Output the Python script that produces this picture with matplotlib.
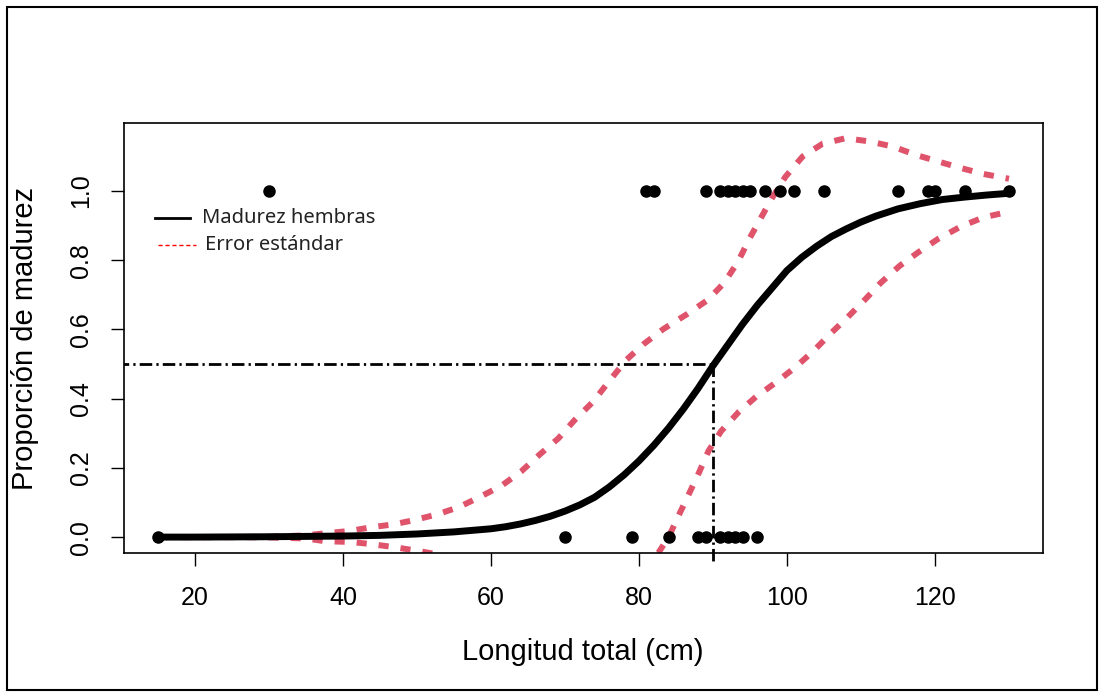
import matplotlib
matplotlib.use('Agg')
import matplotlib.pyplot as plt
from matplotlib.lines import Line2D
from matplotlib.patches import Rectangle

# observed maturity (0 = immature, 1 = mature)
mature_len = [30, 81, 82, 89, 91, 92, 93, 94, 95, 97, 99, 101, 105, 115, 119, 120, 124, 130]
immature_len = [15, 70, 79, 84, 88, 89, 91, 92, 93, 94, 96]

# fitted ogive
fit_x = [15, 20, 30, 40, 45, 50, 55, 60, 62, 64, 66, 68, 70, 72, 74, 76, 78,
         80, 82, 84, 86, 88, 90, 92, 94, 96, 98, 100, 102, 104, 106, 108, 110,
         112, 115, 118, 121, 124, 127, 130]
fit_y = [0.0, 0.0, 0.001, 0.003, 0.005, 0.009, 0.015, 0.024, 0.03, 0.038, 0.048,
         0.06, 0.075, 0.093, 0.115, 0.145, 0.18, 0.22, 0.265, 0.315, 0.37, 0.43,
         0.495, 0.555, 0.615, 0.67, 0.72, 0.77, 0.808, 0.84, 0.868, 0.89, 0.91,
         0.927, 0.948, 0.963, 0.975, 0.982, 0.988, 0.993]

# upper / lower standard error band
up_x = [15, 20, 25, 30, 35, 37.6, 41, 43.7, 46.9, 49.6, 52.8, 55.7, 58.4, 61.4,
        64.1, 66.5, 69.1, 71.3, 73.8, 76.1, 78.3, 80.6, 83.3, 86.5, 89.3, 91.5,
        93.4, 94.9, 96.4, 98, 99.8, 102.1, 104.8, 107.9, 111.1, 114.3, 117.4,
        120.4, 123.5, 126.5, 130]
up_y = [0.0, 0.0, 0.0, 0.001, 0.005, 0.011, 0.018, 0.028, 0.037, 0.049, 0.066,
        0.087, 0.115, 0.148, 0.19, 0.237, 0.285, 0.338, 0.391, 0.454, 0.512,
        0.557, 0.601, 0.644, 0.685, 0.734, 0.796, 0.861, 0.919, 0.98, 1.041,
        1.099, 1.136, 1.152, 1.143, 1.128, 1.104, 1.085, 1.066, 1.049, 1.035]
lo_x = [15, 20, 25, 30, 35, 37.6, 41, 43.7, 46.9, 49.6, 52.8, 56, 60, 70, 78,
        82.6, 84, 85.4, 86.8, 88.1, 89.4, 91.1, 93.5, 95.8, 98.4, 101.1, 103.6,
        105.9, 108.2, 110.5, 112.7, 115.2, 117.9, 120.4, 123.5, 126.5, 130]
lo_y = [0.0, 0.0, 0.0, -0.001, -0.004, -0.012, -0.014, -0.02, -0.029, -0.038,
        -0.05, -0.065, -0.085, -0.12, -0.1, -0.046, 0.0, 0.064, 0.127, 0.186,
        0.249, 0.306, 0.362, 0.405, 0.445, 0.49, 0.538, 0.588, 0.635, 0.685,
        0.735, 0.783, 0.825, 0.861, 0.897, 0.923, 0.94]

l50 = 90

plt.rcParams['font.family'] = ['Liberation Sans', 'DejaVu Sans']

fig = plt.figure(figsize=(11, 6.93), dpi=100)
ax = fig.add_axes([0.1127, 0.202, 0.8355, 0.6205])

red = '#DF536B'
ax.plot(up_x, up_y, color=red, lw=4.3, dashes=(1.7, 2.0))
ax.plot(lo_x, lo_y, color=red, lw=4.3, dashes=(1.7, 2.0))
ax.plot(fit_x, fit_y, color='black', lw=5, solid_capstyle='round',
        solid_joinstyle='round')

ax.plot(mature_len, [1] * len(mature_len), 'o', color='black', ms=8)
ax.plot(immature_len, [0] * len(immature_len), 'o', color='black', ms=8)

# L50 reference lines
dd = (4.5, 1.5, 0.8, 1.5)
ax.plot([0, l50], [0.5, 0.5], color='black', lw=2, dashes=dd)
ax.plot([l50, l50], [0.5, -0.072], color='black', lw=2, dashes=dd, clip_on=False)

ax.set_xlim(10.4, 134.6)
ax.set_ylim(-0.046, 1.196)
ax.set_xticks([20, 40, 60, 80, 100, 120])
ax.set_yticks([0.0, 0.2, 0.4, 0.6, 0.8, 1.0])
ax.set_yticklabels(['0.0', '0.2', '0.4', '0.6', '0.8', '1.0'])
ax.tick_params(length=9.5, width=1, labelsize=18, pad=14)
ax.tick_params(axis='y', labelrotation=90, pad=13)
for lab in ax.get_yticklabels():
    lab.set_va('center')
for s in ax.spines.values():
    s.set_linewidth(1.2)

fig.text(583 / 1100, 1 - 652 / 693, 'Longitud total (cm)', fontsize=21,
         ha='center', va='center')
fig.text(25 / 1100, 1 - 338 / 693, 'Proporción de madurez', fontsize=21,
         ha='center', va='center', rotation=90)

# legend (added by hand in the original)
fig.add_artist(Line2D([155 / 1100, 190 / 1100], [1 - 218 / 693] * 2,
                      color='black', lw=2))
fig.add_artist(Line2D([158 / 1100, 196 / 1100], [1 - 245 / 693] * 2,
                      color='#FF0000', lw=1, dashes=(3, 2)))
fig.text(202 / 1100, 1 - 218 / 693, 'Madurez hembras', fontsize=14.5,
         family=['Noto Sans', 'DejaVu Sans'], va='center', color='#222222')
fig.text(205 / 1100, 1 - 245 / 693, 'Error estándar', fontsize=14.5,
         family=['Noto Sans', 'DejaVu Sans'], va='center', color='#222222')

# outer frame
fig.add_artist(Rectangle((7 / 1100, 3 / 693), 1090 / 1100, 683 / 693,
                         transform=fig.transFigure, fill=False,
                         edgecolor='black', lw=1.5))

fig.savefig('out.png', dpi=100)
